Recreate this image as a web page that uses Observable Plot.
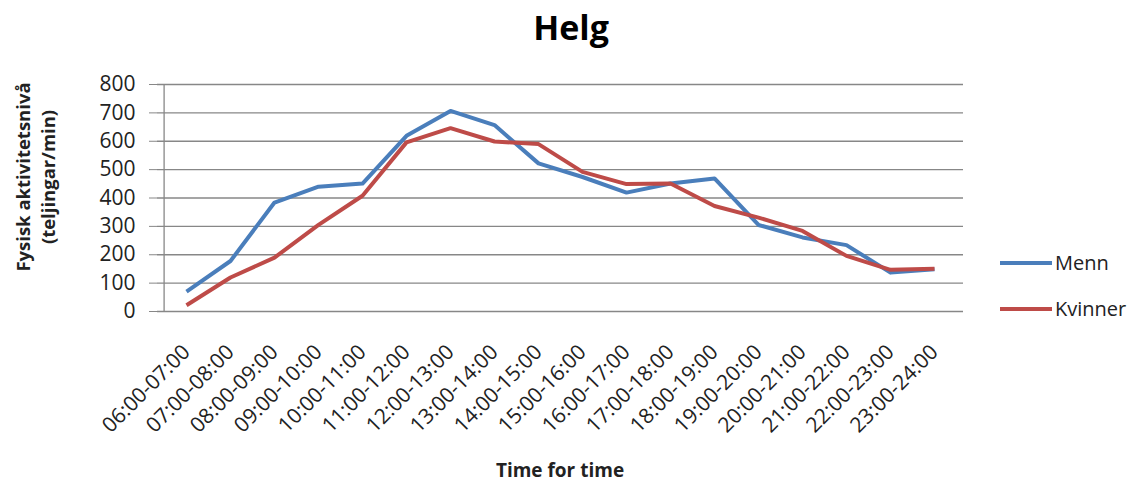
<!DOCTYPE html>
<html>
<head>
<meta charset="utf-8">
<script src="https://cdn.jsdelivr.net/npm/d3@7"></script>
<script src="https://cdn.jsdelivr.net/npm/@observablehq/plot@0.6"></script>
<style>
  html, body { margin: 0; padding: 0; background: #fff; }
  #chart svg { display: block; font-family: "Open Sans", sans-serif; }
</style>
</head>
<body>
<div id="chart"></div>
<script>
// Hourly time slots (weekend)
const slots = [
  "06:00-07:00", "07:00-08:00", "08:00-09:00", "09:00-10:00", "10:00-11:00",
  "11:00-12:00", "12:00-13:00", "13:00-14:00", "14:00-15:00", "15:00-16:00",
  "16:00-17:00", "17:00-18:00", "18:00-19:00", "19:00-20:00", "20:00-21:00",
  "21:00-22:00", "22:00-23:00", "23:00-24:00"
];
// Physical activity level (counts/min)
const menn    = [70, 178, 384, 440, 451, 619, 707, 657, 522, 474, 419, 451, 469, 305, 261, 234, 137, 149];
const kvinner = [22, 120, 190, 305, 408, 596, 646, 599, 590, 492, 449, 451, 372, 331, 284, 196, 147, 151];
const yTicks  = [0, 100, 200, 300, 400, 500, 600, 700, 800];

const seriesNames  = ["Menn", "Kvinner"];
const seriesColors = ["#4a7ebb", "#be4b48"];

const rows = [];
slots.forEach((s, i) => {
  rows.push({slot: s, value: menn[i], series: "Menn"});
  rows.push({slot: s, value: kvinner[i], series: "Kvinner"});
});

const W = 1141, H = 482;
const chart = Plot.plot({
  width: W,
  height: H,
  marginTop: 84,
  marginBottom: 171,
  marginLeft: 157,
  marginRight: 178,
  style: {fontFamily: "'Open Sans', sans-serif", background: "#fff"},
  x: {type: "point", domain: slots, padding: 0.5, axis: null},
  y: {domain: [0, 800], axis: null},
  color: {domain: seriesNames, range: seriesColors},
  marks: [
    // horizontal gridlines
    Plot.ruleY(yTicks, {stroke: "#878787", strokeWidth: 1.3}),
    // vertical value axis line
    Plot.ruleX([slots[0]], {dx: -22.4, stroke: "#878787", strokeWidth: 1.3}),
    // y axis ticks and labels
    Plot.axisY(yTicks, {
      label: null, tickSize: 8, tickPadding: 14, stroke: "#878787",
      fontSize: 21, fill: "#222", tickFormat: d => String(d)
    }),
    // series lines
    Plot.line(rows, {
      x: "slot", y: "value", z: "series", stroke: "series",
      strokeWidth: 4, strokeLinejoin: "round", strokeLinecap: "butt"
    }),
    // rotated category labels
    Plot.text(slots, {
      x: d => d, frameAnchor: "bottom", dy: 37, rotate: -45,
      textAnchor: "end", lineAnchor: "middle", fontSize: 21, fill: "#222"
    })
  ]
});
document.getElementById("chart").appendChild(chart);

// Title, axis titles and legend
const svg = d3.select(chart);
svg.append("text")
  .attr("x", 571).attr("y", 40)
  .attr("text-anchor", "middle")
  .attr("font-size", 34).attr("font-weight", "bold").attr("fill", "#000")
  .text("Helg");

svg.append("text")
  .attr("x", 560).attr("y", 477)
  .attr("text-anchor", "middle")
  .attr("font-size", 19).attr("font-weight", "bold").attr("fill", "#222")
  .text("Time for time");

const yTitle = svg.append("text")
  .attr("transform", "translate(0,177) rotate(-90)")
  .attr("text-anchor", "middle")
  .attr("font-size", 18.5).attr("font-weight", "bold").attr("fill", "#222");
yTitle.append("tspan").attr("x", 0).attr("y", 30).text("Fysisk aktivitetsnivå");
yTitle.append("tspan").attr("x", 0).attr("y", 55).text("(teljingar/min)");

const legend = svg.append("g");
seriesNames.forEach((name, i) => {
  const y = 263 + i * 46;
  legend.append("line")
    .attr("x1", 1000).attr("x2", 1052).attr("y1", y).attr("y2", y)
    .attr("stroke", seriesColors[i]).attr("stroke-width", 4);
  legend.append("text")
    .attr("x", 1055).attr("y", y).attr("dy", "0.36em")
    .attr("text-anchor", "start")
    .attr("font-size", 20).attr("fill", "#222")
    .text(name);
});
</script>
</body>
</html>
